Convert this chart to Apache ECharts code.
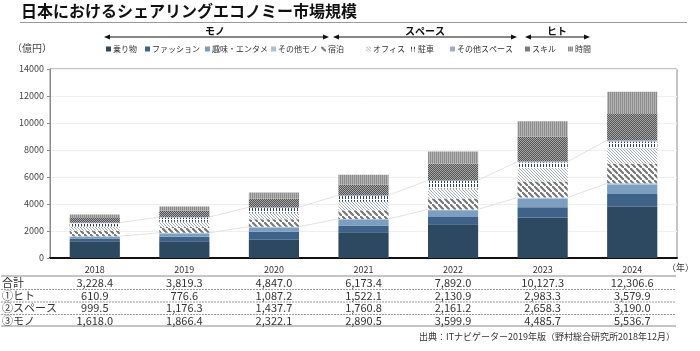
<!DOCTYPE html>
<html>
<head>
<meta charset="utf-8">
<script src="https://cdn.jsdelivr.net/npm/echarts@6/dist/echarts.min.js"></script>
<style>
  html, body { margin: 0; padding: 0; background: #fff; }
  #chart { width: 700px; height: 351px; }
</style>
</head>
<body>
<div id="chart"></div>
<script>
// データ (億円)
var years = ["2018", "2019", "2020", "2021", "2022", "2023", "2024"];
var seriesNames = ["乗り物", "ファッション", "趣味・エンタメ", "その他モノ", "宿泊", "オフィス", "駐車", "その他スペース", "スキル", "時間"];
var norimono = [1250, 1250, 1350, 1900, 2500, 3000, 3800];
var fashion = [200, 330, 600, 500, 530, 760, 950];
var shumi = [120, 230, 310, 420, 500, 650, 700];
var sonotaMono = [48, 56.4, 62.1, 70.5, 69.9, 75.7, 86.7];
var shukuhaku = [400, 430, 550, 650, 800, 1180, 1450];
var office = [310, 390, 480, 620, 750, 1000, 1150];
var chusha = [250, 310, 350, 430, 550, 420, 500];
var sonotaSpace = [39.5, 46.3, 57.7, 60.8, 61.2, 58.3, 90];
var skill = [340, 480, 620, 780, 1230, 1850, 2000];
var jikan = [270.9, 296.6, 467.2, 742.1, 900.9, 1133.3, 1579.9];
var yTicks = [0, 2000, 4000, 6000, 8000, 10000, 12000, 14000];

// 表
var rowLabels = ["合計", "①ヒト", "②スペース", "③モノ"];
var totalRow = [3228.4, 3819.3, 4847.0, 6173.4, 7892.0, 10127.3, 12306.6];
var hitoRow = [610.9, 776.6, 1087.2, 1522.1, 2130.9, 2983.3, 3579.9];
var spaceRow = [999.5, 1176.3, 1437.7, 1760.8, 2161.2, 2658.3, 3190.0];
var monoRow = [1618.0, 1866.4, 2322.1, 2890.5, 3599.9, 4485.7, 5536.7];

var FONT = '"Noto Sans CJK JP", sans-serif';

function makePattern(w, h, draw) {
  var c = document.createElement("canvas");
  c.width = w; c.height = h;
  var ctx = c.getContext("2d");
  draw(ctx, w, h);
  return { image: c, repeat: "repeat" };
}

var pHatch = makePattern(6, 6, function (ctx, w, h) {
  ctx.fillStyle = "#fff"; ctx.fillRect(0, 0, w, h);
  ctx.strokeStyle = "#777"; ctx.lineWidth = 2.2;
  ctx.beginPath();
  ctx.moveTo(-1, -1); ctx.lineTo(w + 1, h + 1);
  ctx.moveTo(-1, h - 7); ctx.lineTo(w + 1, h * 2 - 5);
  ctx.moveTo(w - 7, -1); ctx.lineTo(w * 2 - 5, h + 1);
  ctx.stroke();
});
var pOffice = makePattern(3, 3, function (ctx, w, h) {
  ctx.fillStyle = "#fff"; ctx.fillRect(0, 0, w, h);
  ctx.fillStyle = "#a4acb6";
  ctx.fillRect(0, 0, 1, 1); ctx.fillRect(1, 1, 1, 1); ctx.fillRect(2, 2, 1, 1);
});
var pChusha = makePattern(3, 4, function (ctx, w, h) {
  ctx.fillStyle = "#fff"; ctx.fillRect(0, 0, w, h);
  ctx.fillStyle = "#2c4058"; ctx.fillRect(0, 0, 1, 3);
});
var pSkill = makePattern(2, 2, function (ctx, w, h) {
  ctx.fillStyle = "#555"; ctx.fillRect(0, 0, w, h);
  ctx.fillStyle = "#a4a4a4"; ctx.fillRect(0, 0, 1, 1); ctx.fillRect(1, 1, 1, 1);
});
var pJikan = makePattern(2, 2, function (ctx, w, h) {
  ctx.fillStyle = "#b4b4b4"; ctx.fillRect(0, 0, w, h);
  ctx.fillStyle = "#8c8c8c"; ctx.fillRect(0, 0, 1, 2);
});

var colors = ["#2d4861", "#3f6388", "#7b9ec1", "#a9c3dc", pHatch, pOffice, pChusha, "#9ea9d6", pSkill, pJikan];
var values = [norimono, fashion, shumi, sonotaMono, shukuhaku, office, chusha, sonotaSpace, skill, jikan];
var legendLeft = [106, 145, 205, 271, 321, 366, 411, 450, 525, 568];

var monoTop = years.map(function (y, i) { return norimono[i] + fashion[i] + shumi[i] + sonotaMono[i]; });
var spaceTop = years.map(function (y, i) { return monoTop[i] + shukuhaku[i] + office[i] + chusha[i] + sonotaSpace[i]; });

function pairData(arr) {
  var out = [];
  for (var i = 0; i < arr.length - 1; i++) out.push([i, arr[i], arr[i + 1]]);
  return out;
}

// 系列線 (バーの端どうしを結ぶ)
function seriesLine(params, api) {
  var i = api.value(0);
  var p1 = api.coord([i, api.value(1)]);
  var p2 = api.coord([i + 1, api.value(2)]);
  var half = api.size([1, 0])[0] * 0.56 / 2;
  return {
    type: "line",
    shape: { x1: p1[0] + half, y1: p1[1], x2: p2[0] - half, y2: p2[1] },
    style: { stroke: "#e2e2e2", lineWidth: 1 }
  };
}

var series = seriesNames.map(function (name, k) {
  return {
    name: name,
    type: "bar",
    stack: "total",
    barWidth: "56%",
    data: values[k],
    itemStyle: { color: colors[k] },
    emphasis: { disabled: true }
  };
});
series.push({ type: "custom", renderItem: seriesLine, data: pairData(monoTop), encode: { x: 0, y: 1 }, z: 1, silent: true });
series.push({ type: "custom", renderItem: seriesLine, data: pairData(spaceTop), encode: { x: 0, y: 1 }, z: 1, silent: true });

var legends = seriesNames.map(function (name, k) {
  return {
    data: [name],
    left: legendLeft[k], top: 45,
    itemWidth: 5, itemHeight: 5, itemGap: 0,
    padding: 0,
    icon: "rect",
    selectedMode: false,
    textStyle: { fontSize: 8, color: "#333", fontFamily: FONT, padding: [0, 0, 0, -3] }
  };
});

var chart = echarts.init(document.getElementById("chart"));
chart.setOption({
  animation: false,
  grid: { left: 50, right: 23, top: 69, bottom: 93, show: true, borderColor: "#8a8a8a", borderWidth: 1 },
  legend: legends,
  xAxis: {
    type: "category",
    data: years,
    axisLine: { lineStyle: { color: "#111", width: 2 } },
    axisTick: { show: false },
    axisLabel: { fontSize: 9, color: "#333", margin: 7, fontFamily: FONT }
  },
  yAxis: {
    type: "value",
    min: yTicks[0], max: yTicks[yTicks.length - 1], interval: yTicks[1] - yTicks[0],
    axisLine: { show: true, lineStyle: { color: "#8a8a8a" } },
    axisTick: { show: true, length: 3, lineStyle: { color: "#8a8a8a" } },
    splitLine: { lineStyle: { color: "#efefef" } },
    axisLabel: { fontSize: 9, color: "#444", margin: 6, fontFamily: FONT, formatter: function (v) { return String(v); } }
  },
  series: series
});

function fmt(v) {
  var s = v.toFixed(1).split(".");
  return s[0].replace(/\B(?=(\d{3})+(?!\d))/g, ",") + "." + s[1];
}

function arrow(x1, x2, y) {
  return [{
    type: "line", shape: { x1: x1 + 4, y1: y, x2: x2 - 4, y2: y },
    style: { stroke: "#111", lineWidth: 1.2 }
  }, {
    type: "polygon", shape: { points: [[x1, y], [x1 + 6, y - 2.5], [x1 + 6, y + 2.5]] }, style: { fill: "#111" }
  }, {
    type: "polygon", shape: { points: [[x2, y], [x2 - 6, y - 2.5], [x2 - 6, y + 2.5]] }, style: { fill: "#111" }
  }];
}

var g = [];
g.push({ type: "text", left: 21, top: 3, style: { text: "日本におけるシェアリングエコノミー市場規模", font: "bold 16px " + FONT, fill: "#111" } });
g.push({ type: "line", shape: { x1: 20, y1: 22.5, x2: 687, y2: 22.5 }, style: { stroke: "#9a9a9a", lineWidth: 1 } });
g = g.concat(arrow(104, 329, 37), arrow(333, 517, 37), arrow(525, 590, 37));
g.push({ type: "text", x: 215, y: 31, style: { text: "モノ", font: "bold 10px " + FONT, fill: "#111", align: "center", verticalAlign: "middle" } });
g.push({ type: "text", x: 425, y: 31, style: { text: "スペース", font: "bold 10px " + FONT, fill: "#111", align: "center", verticalAlign: "middle" } });
g.push({ type: "text", x: 557, y: 31, style: { text: "ヒト", font: "bold 10px " + FONT, fill: "#111", align: "center", verticalAlign: "middle" } });
g.push({ type: "text", x: 12, y: 48, style: { text: "（億円）", font: "10px " + FONT, fill: "#444", verticalAlign: "middle" } });
g.push({ type: "text", x: 667, y: 268, style: { text: "（年）", font: "9px " + FONT, fill: "#333", verticalAlign: "middle" } });

var rows = [totalRow, hitoRow, spaceRow, monoRow];
var rowY = [283, 295.5, 308, 320.5];
var lineY = [276, 289.5, 302, 314.5, 326];
lineY.forEach(function (y, k) {
  var solid = k === 0 || k === lineY.length - 1;
  g.push({ type: "line", shape: { x1: 1, y1: y, x2: 676, y2: y },
    style: { stroke: solid ? "#8a8a8a" : "#9a9a9a", lineWidth: 1, lineDash: solid ? null : [2, 1] } });
});
rows.forEach(function (row, r) {
  g.push({ type: "text", x: 2, y: rowY[r], style: { text: rowLabels[r], font: "11px " + FONT, fill: "#333", verticalAlign: "middle" } });
  row.forEach(function (v, i) {
    var x = chart.convertToPixel({ xAxisIndex: 0 }, years[i]);
    g.push({ type: "text", x: x, y: rowY[r], style: { text: fmt(v), font: "11px " + FONT, fill: "#333", align: "center", verticalAlign: "middle" } });
  });
});
g.push({ type: "text", x: 675, y: 337, style: { text: "出典：ITナビゲーター2019年版（野村総合研究所2018年12月）", font: "9px " + FONT, fill: "#333", align: "right", verticalAlign: "middle" } });

chart.setOption({ graphic: { elements: g } });
</script>
</body>
</html>
